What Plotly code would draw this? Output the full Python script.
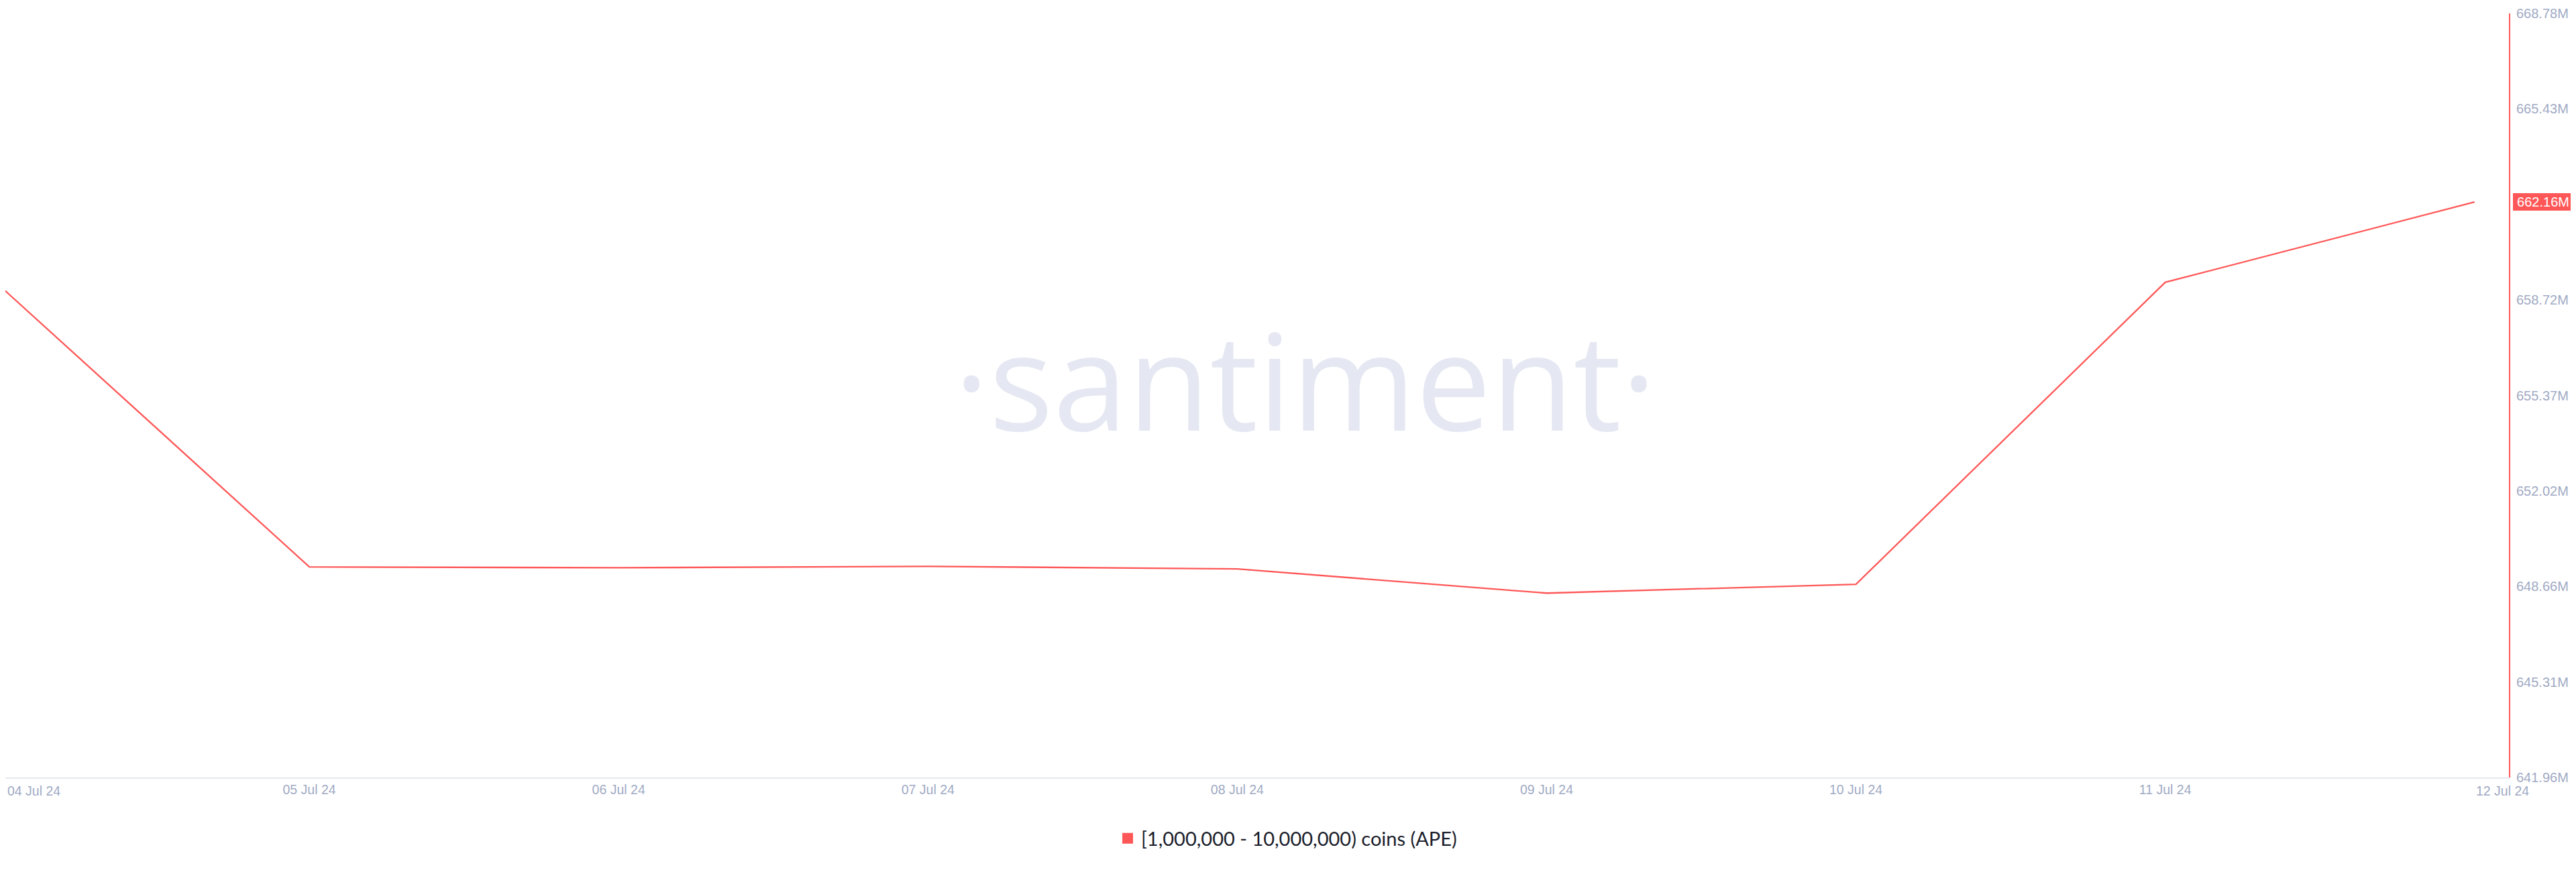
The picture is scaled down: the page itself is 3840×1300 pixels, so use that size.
import plotly.graph_objects as go

# ---- data (values in millions of APE) ----
dates = ["2024-07-04", "2024-07-05", "2024-07-06", "2024-07-07", "2024-07-08",
         "2024-07-09", "2024-07-10", "2024-07-11", "2024-07-12"]
date_labels = ["04 Jul 24", "05 Jul 24", "06 Jul 24", "07 Jul 24", "08 Jul 24",
               "09 Jul 24", "10 Jul 24", "11 Jul 24", "12 Jul 24"]
holdings_m = [659.21, 649.35, 649.32, 649.37, 649.28, 648.43, 648.74, 659.34, 662.16]
y_ticks = [641.96, 645.31, 648.66, 652.02, 655.37, 658.72, 665.43, 668.78]
y_tick_labels = ["641.96M", "645.31M", "648.66M", "652.02M", "655.37M",
                 "658.72M", "665.43M", "668.78M"]
series_name = "[1,000,000 - 10,000,000) coins (APE)"

RED = "#ff5757"
TICK = "#9faac4"
TICK_FONT = "Liberation Sans, Arial, sans-serif"

# page body has an 8px default margin -> figure is 8px smaller each way
FIG_W, FIG_H = 3832, 1292

fig = go.Figure()
fig.add_trace(go.Scatter(
    x=dates, y=holdings_m, mode="lines",
    line=dict(color=RED, width=2.3),
    showlegend=False, hoverinfo="skip",
))
# legend entry (square swatch)
fig.add_trace(go.Scatter(
    x=[None], y=[None], mode="markers", name=series_name,
    marker=dict(symbol="square", color=RED, size=19),
    showlegend=True,
))

fig.update_layout(
    width=FIG_W, height=FIG_H,
    margin=dict(l=0, r=100, t=12, b=141, autoexpand=False),
    paper_bgcolor="white", plot_bgcolor="white",
    xaxis=dict(
        type="date", automargin=False,
        range=["2024-07-04 00:25", "2024-07-12 02:40"],
        tickvals=dates[1:-1], ticktext=date_labels[1:-1],
        showgrid=False, zeroline=False,
        showline=True, linecolor="#e4e8f0", linewidth=2,
        ticks="", tickfont=dict(family=TICK_FONT, size=19.5, color=TICK),
    ),
    yaxis=dict(
        side="right", automargin=False,
        range=[y_ticks[0], y_ticks[-1]],
        tickvals=y_ticks, ticktext=y_tick_labels,
        showgrid=False, zeroline=False,
        showline=True, linecolor=RED, linewidth=2,
        ticks="", ticklabelstandoff=5, ticklabeloverflow="allow",
        tickfont=dict(family=TICK_FONT, size=20, color=TICK),
    ),
    legend=dict(
        orientation="h", xref="container", yref="container",
        x=1911 / FIG_W, xanchor="center", y=1 - 1242 / FIG_H, yanchor="middle",
        font=dict(family="Lato, Noto Sans, sans-serif", size=29, color="#1b1e2b"),
        bgcolor="rgba(0,0,0,0)",
    ),
)

# edge date labels (shifted inside the page like the original)
fig.add_annotation(x=0, y=0, xref="paper", yref="paper", text=date_labels[0],
                   showarrow=False, xanchor="left", yanchor="middle", xshift=1, yshift=-20,
                   font=dict(family=TICK_FONT, size=19.5, color=TICK))
fig.add_annotation(x=dates[-1], y=0, xref="x", yref="paper", text=date_labels[-1],
                   showarrow=False, xanchor="left", yanchor="middle", xshift=0, yshift=-20,
                   font=dict(family=TICK_FONT, size=19.5, color=TICK))

# last value badge
fig.add_annotation(x=1, y=holdings_m[-1], xref="paper", yref="y",
                   text=f"{holdings_m[-1]:.2f}M", showarrow=False,
                   xanchor="left", yanchor="middle", xshift=6,
                   bgcolor=RED, borderpad=1, borderwidth=0, width=88, height=24,
                   font=dict(family=TICK_FONT, size=20, color="white"))

# watermark
fig.add_annotation(x=1937 / 3732, y=0.522, xref="paper", yref="paper",
                   text="·santiment·", showarrow=False,
                   xanchor="center", yanchor="middle",
                   font=dict(family="Open Sans, sans-serif", size=200, color="#e5e8f2"))

fig.write_html("out.html")
